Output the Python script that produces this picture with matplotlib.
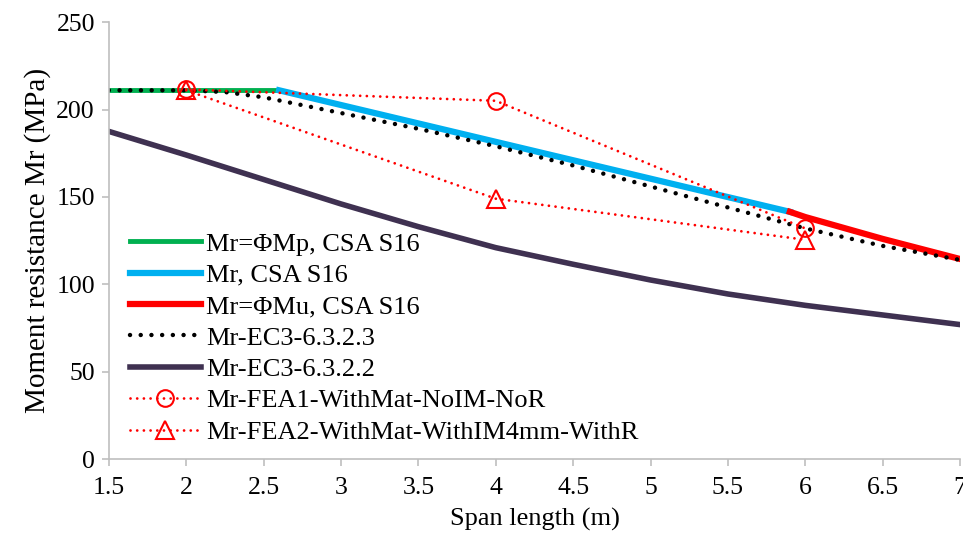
import matplotlib
matplotlib.use("Agg")
import matplotlib.pyplot as plt

plt.rcParams['font.family'] = ['Liberation Serif', 'DejaVu Serif']

# CSA S16 segments
x_mp = [1.5, 2.6]
y_mp = [211, 211]
x_mr = [2.6, 5.9]
y_mr = [211, 141.5]
x_mu = [5.9, 6.0, 6.5, 7.0]
y_mu = [141.5, 138.5, 126, 114.5]

# Eurocode curves
x_ec = [1.5, 2.0, 2.25, 2.5, 3.0, 3.5, 4.0, 4.5, 5.0, 5.5, 6.0, 6.5, 7.0]
y_ec323 = [211, 211, 210, 207, 198, 189, 179, 168, 156, 144, 132, 122, 114]
y_ec322 = [187.5, 174, 167, 160, 146, 133, 121, 111.5, 102.5, 94.5, 88, 82.5, 77]

# FEA results
x_fea = [2, 4, 6]
y_fea1 = [211.5, 205, 132]
y_fea2 = [211, 149, 125.5]

fig = plt.figure(figsize=(9.63, 5.39), dpi=100)
ax = fig.add_axes([0.113, 0.148, 0.884, 0.811])

ax.plot(x_mp, y_mp, color='#00B050', lw=3.5, label='Mr=ΦMp, CSA S16')
ax.plot(x_mr, y_mr, color='#00B0F0', lw=4.5, label='Mr, CSA S16')
ax.plot(x_mu, y_mu, color='#FF0000', lw=4.5, label='Mr=ΦMu, CSA S16')
ax.plot(x_ec, y_ec323, color='black', lw=3.2, linestyle=(0, (0.01, 2.4)),
        dash_capstyle='round', label='Mr-EC3-6.3.2.3')
ax.plot(x_ec, y_ec322, color='#3F3151', lw=4, label='Mr-EC3-6.3.2.2')
ax.plot(x_fea, y_fea1, color='#FF0000', lw=2, linestyle=(0, (0.01, 2.4)),
        dash_capstyle='round', marker='o', ms=12, mfc='none', mec='#FF0000', mew=1.5,
        label='Mr-FEA1-WithMat-NoIM-NoR')
ax.plot(x_fea, y_fea2, color='#FF0000', lw=2, linestyle=(0, (0.01, 2.4)),
        dash_capstyle='round', marker='^', ms=13, mfc='none', mec='#FF0000', mew=1.5,
        label='Mr-FEA2-WithMat-WithIM4mm-WithR')

ax.set_xlim(1.5, 7)
ax.set_ylim(0, 250)
ax.set_xticks([1.5, 2, 2.5, 3, 3.5, 4, 4.5, 5, 5.5, 6, 6.5, 7])
ax.set_xticklabels(['1.5', '2', '2.5', '3', '3.5', '4', '4.5', '5', '5.5', '6', '6.5', '7'])
ax.set_yticks([0, 50, 100, 150, 200, 250])

for s in ['top', 'right']:
    ax.spines[s].set_visible(False)
for s in ['left', 'bottom']:
    ax.spines[s].set_color('#BFBFBF')
    ax.spines[s].set_linewidth(1.2)
ax.tick_params(axis='both', direction='out', length=5, color='#BFBFBF', width=1.2,
               labelsize=18.5)
ax.tick_params(axis='x', pad=8)
ax.tick_params(axis='y', pad=5)

ax.set_xlabel('Span length (m)', fontsize=19, labelpad=6)
ax.set_ylabel('Moment resistance Mr (MPa)', fontsize=21, labelpad=4)

ax.legend(loc='lower left', bbox_to_anchor=(0.009, 0.005), frameon=False, fontsize=19,
          handlelength=2.7, labelspacing=0.3, handletextpad=0.2, borderaxespad=0.1)

fig.savefig('out.png', dpi=100)
